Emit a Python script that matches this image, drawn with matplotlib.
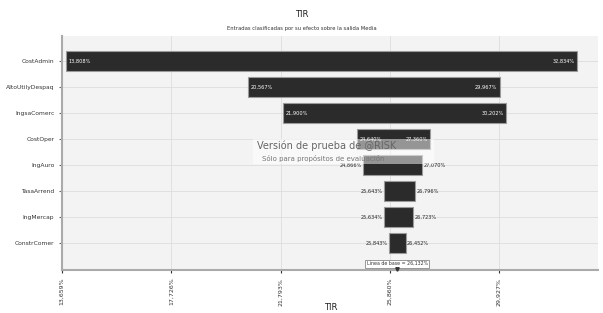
import matplotlib.pyplot as plt
import matplotlib.ticker as mticker
from matplotlib.patches import Rectangle

# datos del tornado (en %)
entradas = ["CostAdmin", "AltoUtilyDespaq", "IngsaComerc", "CostOper",
            "IngAuro", "TasaArrend", "IngMercap", "ConstrComer"]
bajo = [13.808, 20.567, 21.900, 24.640, 24.866, 25.643, 25.634, 25.843]
alto = [32.834, 29.967, 30.202, 27.360, 27.070, 26.796, 26.723, 26.452]
base = 26.132
ticks = [13.659, 17.726, 21.793, 25.860, 29.927]

fmt = lambda v: ("%.3f%%" % v).replace(".", ",")

fig = plt.figure(figsize=(6.03, 3.13), dpi=100)
ax = fig.add_axes([0.1028, 0.1374, 0.889, 0.7476])
ax.set_facecolor("#f3f3f3")

for i, (b, a) in enumerate(zip(bajo, alto)):
    ax.barh(i, a - b, left=b, height=0.78, color="#2b2b2b",
            edgecolor="#9a9a9a", linewidth=0.8, zorder=3)
    if i < 4:
        ax.text(b + 0.1, i, fmt(b), color="white", fontsize=3.6, va="center", ha="left", zorder=4)
        ax.text(a - 0.1, i, fmt(a), color="white", fontsize=3.6, va="center", ha="right", zorder=4)
    else:
        ax.text(b - 0.05, i, fmt(b), color="#222222", fontsize=3.6, va="center", ha="right", zorder=4)
        ax.text(a + 0.05, i, fmt(a), color="#222222", fontsize=3.6, va="center", ha="left", zorder=4)

ax.set_yticks(range(len(entradas)))
ax.set_yticklabels(entradas, fontsize=4.3, color="#333333")
ax.set_ylim(7 + 1.04, -0.96)
ax.set_xlim(ticks[0], 33.61)
ax.set_xticks(ticks)
ax.xaxis.set_major_formatter(mticker.FuncFormatter(lambda v, p: fmt(v)))
ax.tick_params(axis="x", labelsize=4.5, labelrotation=90, colors="#333333", length=2)
ax.tick_params(axis="y", length=2, colors="#666666")
for t in ax.get_yticklabels():
    t.set_color("#333333")
ax.grid(True, color="#dddddd", linewidth=0.6, zorder=0)

for s in ["top", "right"]:
    ax.spines[s].set_visible(False)
ax.spines["left"].set_color("#aaaaaa")
ax.spines["left"].set_linewidth(1.5)
ax.spines["bottom"].set_color("#aaaaaa")
ax.spines["bottom"].set_linewidth(1.5)

# línea de base
ax.text(base, 7.8, "Línea de base = " + fmt(base), fontsize=3.4, ha="center", va="center",
        color="#333333", zorder=5,
        bbox=dict(boxstyle="square,pad=0.3", fc="white", ec="#888888", lw=0.6))
ax.plot([base], [8.0], marker="v", color="#333333", markersize=2.5, clip_on=False, zorder=5)

# título del eje x (abajo del todo)
fig.text(0.548, 0.003, "TIR", fontsize=6, ha="center", va="bottom", color="#222222")

fig.text(0.5, 0.945, "TIR", fontsize=6, ha="center", color="#222222")
fig.text(0.5, 0.905, "Entradas clasificadas por su efecto sobre la salida Media",
         fontsize=3.8, ha="center", color="#333333")

# marca de agua
fig.patches.append(Rectangle((0.42, 0.476), 0.30, 0.08, transform=fig.transFigure,
                             facecolor="white", alpha=0.5, edgecolor="none", zorder=6))
fig.text(0.541, 0.534, "Versión de prueba de @RISK", fontsize=7, ha="center", va="center",
         color="#666666", zorder=7)
fig.text(0.536, 0.495, "Sólo para propósitos de evaluación", fontsize=5, ha="center", va="center",
         color="#777777", zorder=7)

fig.savefig("out.png", dpi=100)
